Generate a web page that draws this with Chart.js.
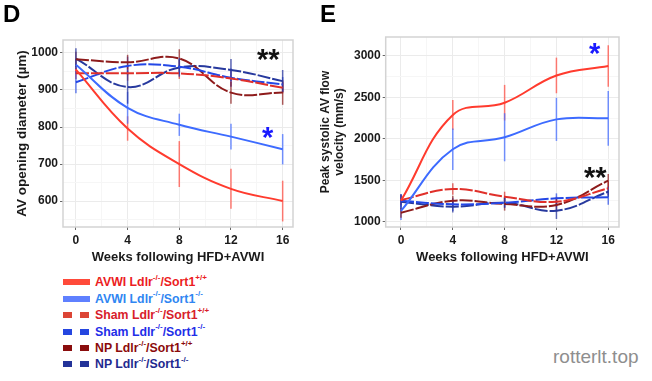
<!DOCTYPE html>
<html>
<head>
<meta charset="utf-8">
<script src="https://cdn.jsdelivr.net/npm/chart.js@4.4.1/dist/chart.umd.min.js"></script>
<style>
  html, body { margin:0; padding:0; background:#fff; }
  body { width:652px; height:381px; position:relative; overflow:hidden;
         font-family:"Liberation Sans", Arial, Helvetica, sans-serif; }
  canvas { position:absolute; }
  .abs { position:absolute; white-space:nowrap; }
  .letter { font-size:24px; font-weight:bold; line-height:24px; color:#000; }
  .star { font-size:29px; font-weight:bold; line-height:28px; }
  .leg-row { position:absolute; left:63px; height:16px; line-height:16px; font-size:12.3px; font-weight:bold; white-space:nowrap; }
  .sw { position:absolute; top:5px; height:6px; }
  .leg-text { position:absolute; left:32px; top:0; }
  .leg-text sup { font-size:8px; line-height:0; position:relative; top:-1px; }
  .wm { font-size:19px; color:#8e8e8e; font-family:"Liberation Sans", Arial, sans-serif; }
</style>
</head>
<body>
<canvas id="chartD" width="320" height="270" style="left:0;top:0"></canvas>
<canvas id="chartE" width="342" height="270" style="left:310px;top:0"></canvas>

<div class="abs letter" style="left:3px;top:2px">D</div>
<div class="abs letter" style="left:320px;top:2px">E</div>

<div class="abs star" style="left:257px;top:45px;color:#111">**</div>
<div class="abs star" style="left:262px;top:123px;color:#1a1aff">*</div>
<div class="abs star" style="left:589px;top:39px;color:#1a1aff">*</div>
<div class="abs star" style="left:584px;top:163px;color:#111">**</div>

<div id="legend"></div>
<div class="abs wm" style="left:553px;top:346px">rotterlt.top</div>

<script>
// ---------------- data ----------------
const weeks = [0, 4, 8, 12, 16];
const xTickValues = [0, 2, 4, 6, 8, 10, 12, 14, 16];
const groups = ['AVWI', 'AVWI', 'Sham', 'Sham', 'NP', 'NP'];
const sort1Genotype = ['+/+', '-/-', '+/+', '-/-', '+/+', '-/-'];

const xTitle = 'Weeks following HFD+AVWI';
const dYTitle = 'AV opening diameter (µm)';
const eYTitle = ['Peak systolic AV flow', 'velocity (mm/s)'];

// Panel D : AV opening diameter (µm)
const dTickValues = [550, 600, 650, 700, 750, 800, 850, 900, 950, 1000];
const dAvwiWT = [955, 796, 700, 633, 600];
const dAvwiKO = [968, 852, 806, 774, 740];
const dShamWT = [945, 945, 945, 931, 906];
const dShamKO = [921, 965, 963, 933, 915];
const dNpWT   = [983, 975, 985, 893, 893];
const dNpKO   = [985, 908, 961, 954, 924];
const dAvwiWTErr = [12, 33, 62, 54, 55];
const dAvwiKOErr = [15, 43, 30, 35, 41];
const dShamWTErr = [15, 20, 15, 20, 15];
const dShamKOErr = [30, 25, 20, 25, 20];
const dNpWTErr   = [20, 20, 25, 30, 33];
const dNpKOErr   = [28, 45, 25, 30, 30];

// Panel E : Peak systolic AV flow velocity (mm/s)
const eTickValues = [1000, 1250, 1500, 1750, 2000, 2250, 2500, 2750, 3000];
const eAvwiWT = [1255, 2288, 2436, 2765, 2880];
const eAvwiKO = [1130, 1874, 2019, 2235, 2248];
const eShamWT = [1262, 1395, 1302, 1241, 1403];
const eShamKO = [1253, 1210, 1229, 1282, 1295];
const eNpWT   = [1109, 1253, 1214, 1202, 1495];
const eNpKO   = [1241, 1181, 1229, 1133, 1362];
const eAvwiWTErr = [60, 180, 215, 215, 250];
const eAvwiKOErr = [110, 250, 290, 260, 330];
const eShamWTErr = [60, 70, 60, 60, 80];
const eShamKOErr = [80, 80, 60, 60, 90];
const eNpWTErr   = [60, 60, 80, 80, 80];
const eNpKOErr   = [90, 70, 60, 100, 60];

// ---------------- styles ----------------
const lineColors  = ['#ff3b2e', '#3d6bff', '#e0302a', '#2447e6', '#8e1b1b', '#27399e'];
const errColors   = ['rgba(255,80,70,0.75)', 'rgba(70,110,255,0.75)', 'rgba(215,50,45,0.7)',
                     'rgba(40,75,230,0.7)', 'rgba(140,25,25,0.7)', 'rgba(40,55,160,0.75)'];
const dashes      = [[], [], [13, 2], [13, 2], [13, 2], [13, 2]];
const swatchColors = ['#ff4a3a', '#5f80ff', '#dc4535', '#2546e0', '#8a0d0d', '#233399'];
const legendTextColors = ['#ec1c22', '#2f86f2', '#d8202a', '#1f2ee8', '#8b0a0a', '#1f2a8f'];
const FONT = '"Liberation Sans", Arial, Helvetica, sans-serif';

Chart.defaults.font.family = FONT;
Chart.defaults.color = '#1a1a1a';

const panelPlugin = {
  id: 'panel',
  beforeDatasetsDraw(chart) {
    const { ctx, scales: { x, y } } = chart;
    ctx.save();
    ctx.setLineDash([]);
    ctx.lineWidth = 1.5;
    chart.data.datasets.forEach(ds => {
      ctx.strokeStyle = ds.errColor;
      ds.data.forEach((p, i) => {
        const e = ds.errors[i];
        const px = x.getPixelForValue(p.x);
        ctx.beginPath();
        ctx.moveTo(px, y.getPixelForValue(p.y + e));
        ctx.lineTo(px, y.getPixelForValue(p.y - e));
        ctx.stroke();
      });
    });
    ctx.restore();
  },
  afterDraw(chart) {
    const { ctx, chartArea: a } = chart;
    ctx.save();
    ctx.strokeStyle = '#d3d3d3';
    ctx.lineWidth = 1.5;
    ctx.setLineDash([]);
    ctx.strokeRect(a.left, a.top, a.right - a.left, a.bottom - a.top);
    ctx.restore();
  }
};

function makeChart(id, values, errors, o) {
  const datasets = values.map((v, k) => ({
    label: groups[k] + ' Ldlr-/-/Sort1' + sort1Genotype[k],
    data: weeks.map((w, i) => ({ x: w, y: v[i] })),
    errors: errors[k],
    errColor: errColors[k],
    borderColor: lineColors[k],
    borderWidth: 2,
    borderDash: dashes[k],
    tension: 0.4,
    pointRadius: 0,
    fill: false
  }));
  const isMajorX = c => c.tick && c.tick.value % 4 === 0;
  const isMajorY = c => c.tick && c.tick.value % o.yMajor === 0;
  return new Chart(document.getElementById(id), {
    type: 'line',
    data: { datasets },
    options: {
      responsive: false, animation: false, events: [],
      layout: { padding: { top: o.padTop, right: o.padRight, left: 0, bottom: 0 } },
      plugins: { legend: { display: false }, tooltip: { enabled: false } },
      scales: {
        x: {
          type: 'linear', min: o.xMin, max: o.xMax,
          afterBuildTicks: s => { s.ticks = xTickValues.map(v => ({ value: v })); },
          afterFit: s => { s.height = o.xAxisH; },
          ticks: { autoSkip: false, maxRotation: 0, padding: 3, color: '#1a1a1a',
                   font: { size: 12, weight: 'bold' },
                   callback: v => (v % 4 === 0 ? String(v) : '') },
          grid: { color: c => (isMajorX(c) ? '#ebebeb' : '#f6f6f6'),
                  tickColor: c => (isMajorX(c) ? '#666' : 'rgba(0,0,0,0)'),
                  tickLength: 3, lineWidth: 1 },
          border: { display: false },
          title: { display: true, text: xTitle, color: '#1a1a1a',
                   font: { size: 13, weight: 'bold' }, padding: { top: 0, bottom: 5 } }
        },
        y: {
          type: 'linear', min: o.yMin, max: o.yMax,
          afterBuildTicks: s => { s.ticks = o.yTicks.map(v => ({ value: v })); },
          afterFit: s => { s.width = o.yAxisW; },
          ticks: { autoSkip: false, padding: 2, color: '#1a1a1a',
                   font: { size: 12, weight: 'bold' },
                   callback: v => (v % o.yMajor === 0 ? String(v) : '') },
          grid: { color: c => (isMajorY(c) ? '#ebebeb' : '#f6f6f6'),
                  tickColor: c => (isMajorY(c) ? '#666' : 'rgba(0,0,0,0)'),
                  tickLength: 3, lineWidth: 1 },
          border: { display: false },
          title: { display: true, text: o.yTitle, color: '#1a1a1a',
                   font: { size: o.yTitleSize, weight: 'bold' }, padding: { top: o.yTitlePad, bottom: 0 } }
        }
      }
    },
    plugins: [panelPlugin]
  });
}

makeChart('chartD',
  [dAvwiWT, dAvwiKO, dShamWT, dShamKO, dNpWT, dNpKO],
  [dAvwiWTErr, dAvwiKOErr, dShamWTErr, dShamKOErr, dNpWTErr, dNpKOErr],
  { padTop: 40, padRight: 27, xAxisH: 43, yAxisW: 63, xMin: -1.0, xMax: 16.8,
    yMin: 530, yMax: 1035, yTicks: dTickValues, yMajor: 100,
    yTitle: dYTitle, yTitleSize: 13.5, yTitlePad: 14 });

makeChart('chartE',
  [eAvwiWT, eAvwiKO, eShamWT, eShamKO, eNpWT, eNpKO],
  [eAvwiWTErr, eAvwiKOErr, eShamWTErr, eShamKOErr, eNpWTErr, eNpKOErr],
  { padTop: 37, padRight: 33, xAxisH: 43, yAxisW: 75.7, xMin: -1.18, xMax: 16.83,
    yMin: 936, yMax: 3229, yTicks: eTickValues, yMajor: 500,
    yTitle: eYTitle, yTitleSize: 12, yTitlePad: 8 });

// ---------------- legend ----------------
const legend = document.getElementById('legend');
const rowCenters = [282, 298.5, 315, 331.5, 348, 364];
groups.forEach((g, k) => {
  const row = document.createElement('div');
  row.className = 'leg-row';
  row.style.top = (rowCenters[k] - 8) + 'px';
  if (dashes[k].length === 0) {
    row.innerHTML += `<div class="sw" style="left:0;width:27px;background:${swatchColors[k]}"></div>`;
  } else {
    row.innerHTML += `<div class="sw" style="left:0;width:9px;background:${swatchColors[k]}"></div>` +
                     `<div class="sw" style="left:17px;width:9px;background:${swatchColors[k]}"></div>`;
  }
  row.innerHTML += `<span class="leg-text" style="color:${legendTextColors[k]}">${g} Ldlr<sup>-/-</sup>/Sort1<sup>${sort1Genotype[k]}</sup></span>`;
  legend.appendChild(row);
});
</script>
</body>
</html>
